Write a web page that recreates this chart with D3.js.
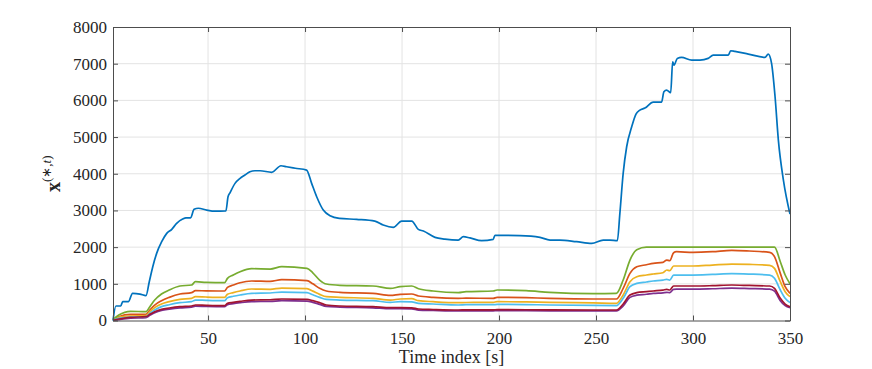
<!DOCTYPE html>
<meta charset="utf-8">
<html>
<head>
  <script src="https://d3js.org/d3.v7.min.js"></script>
  <style>
    body { margin: 0; background: #fff; }
    svg { font-family: "Liberation Serif", "Times New Roman", serif; }
    .grid line { stroke: #e3e3e3; stroke-width: 1; }
    .axis path, .axis line { stroke: #4d4d4d; }
  </style>
</head>
<body>
<script>
// main (large) series, its own time breakpoints
var blueT = [1, 2.5, 5, 6, 8.9, 11.1, 14.9, 18, 19.7, 21.5, 23.5, 26.1, 28.7, 31.3, 33.8, 36.9, 38.6, 41, 42.8, 45, 49.3, 53.6, 59.2,
  60.3, 61.3, 63.9, 66.5, 69, 71.6, 74.2, 76.8, 82.8, 87.6, 90.5, 95, 100.8, 103.4, 106, 109.4, 112.9, 117.7, 126.6, 136, 140.3,
  145.5, 149.8, 155, 158.4, 161, 167, 172.1, 179, 181.6, 185, 191, 197, 197.9, 210.8, 221.1, 226.3, 231.4, 240, 247.8, 253.7,
  257.2, 261, 262.3, 264, 265.8, 268.4, 270.6, 272.6, 275.2, 279.5, 283.8, 285, 286.4, 288.5, 289.5, 290.2, 291.9, 294.1,
  299.3, 303.6, 307.8, 310.4, 318.2, 319.4, 321.6, 328.5, 337.1, 338.8, 340.5, 342.3, 344, 346.6, 350];
var blueV = [0, 395, 395, 512, 512, 740, 720, 677, 1058, 1467, 1830, 2148, 2375, 2485, 2648, 2766, 2800, 2800, 3030, 3060, 3010, 2980, 2985,
  3374, 3480, 3738, 3875, 3964, 4055, 4082, 4082, 4040, 4218, 4190, 4150, 4100, 3738, 3374, 3011, 2856, 2784, 2757, 2711, 2602,
  2539, 2711, 2711, 2485, 2439, 2267, 2220, 2193, 2284, 2250, 2175, 2212, 2321, 2312, 2267, 2193, 2193, 2148, 2103, 2193,
  2193, 2175, 2921, 4011, 4736, 5281, 5627, 5736, 5790, 5954, 5954, 6235, 6281, 6208, 7052, 6962, 7144, 7171,
  7098, 7098, 7144, 7234, 7234, 7352, 7334, 7262, 7171, 7262, 7008, 6098, 4918, 3828, 2900];

// six smaller series share one set of time breakpoints
var tSmall = [1, 4, 10, 18, 20, 22.5, 26, 30, 35.5, 41.5, 43.5, 49, 58.5, 60, 63, 66.5, 72.5, 82, 88, 101, 104, 107.5, 111, 118, 135,
  144, 149, 155, 158.5, 166, 179, 183, 197, 199, 214, 226, 248.5, 260.5, 264, 267.5, 271, 276, 279.5, 284.5, 286.5, 288, 290,
  291.5, 300, 310, 320, 329, 339.5, 342, 345, 347.5, 350];
var orangeV = [20, 104, 168, 168, 286, 422, 540, 631, 722, 758, 813, 808, 804, 903, 967, 1030, 1076, 1067, 1112, 1085, 1000, 876, 804, 767, 740,
  686, 713, 722, 667, 631, 604, 610, 604, 631, 622, 604, 586, 586, 876, 1285, 1466, 1520, 1557, 1584, 1648, 1630, 1848,
  1875, 1857, 1875, 1912, 1894, 1857, 1739, 1285, 921, 740];
var yellowV = [15, 86, 120, 132, 240, 350, 449, 515, 576, 604, 649, 640, 631, 713, 760, 804, 858, 849, 885, 867, 800, 713, 649, 631, 604,
  558, 586, 595, 540, 513, 485, 490, 495, 513, 505, 495, 480, 467, 695, 1058, 1194, 1240, 1267, 1303, 1376, 1358, 1485,
  1485, 1485, 1512, 1539, 1530, 1503, 1421, 1058, 786, 649];
var purpleV = [0, 25, 65, 80, 140, 210, 275, 310, 345, 365, 390, 382, 375, 430, 460, 485, 515, 520, 540, 530, 495, 440, 385, 365, 345,
  320, 320, 315, 285, 275, 262, 265, 265, 270, 268, 265, 260, 260, 395, 631, 690, 715, 740, 755, 767, 758, 850,
  855, 855, 865, 880, 870, 855, 800, 540, 404, 350];
var greenV = [30, 150, 250, 240, 377, 558, 722, 831, 940, 967, 1058, 1040, 1030, 1149, 1240, 1330, 1412, 1403, 1466, 1421, 1300, 1103, 994, 958, 940,
  876, 921, 940, 867, 804, 758, 785, 804, 831, 813, 767, 731, 740, 1103, 1648, 1930, 2000, 2000, 2000, 2000, 2000, 2000,
  2000, 2000, 2000, 2000, 2000, 2000, 2000, 1603, 1240, 1000];
var cyanV = [10, 59, 90, 104, 195, 286, 377, 430, 485, 513, 558, 549, 540, 622, 660, 695, 740, 750, 776, 758, 700, 631, 576, 558, 540,
  495, 513, 510, 467, 450, 422, 430, 430, 440, 435, 422, 410, 404, 604, 921, 1012, 1050, 1076, 1100, 1121, 1103, 1239,
  1239, 1239, 1255, 1276, 1265, 1239, 1149, 831, 604, 486];
var darkredV = [5, 41, 86, 104, 168, 240, 304, 340, 377, 395, 422, 413, 404, 467, 495, 522, 558, 565, 586, 576, 540, 486, 422, 395, 377,
  350, 350, 345, 313, 300, 286, 290, 290, 295, 293, 290, 286, 286, 449, 695, 758, 785, 804, 830, 849, 831, 940,
  940, 940, 950, 967, 955, 940, 876, 604, 449, 377];

var xTicks = [50, 100, 150, 200, 250, 300, 350];
var yTicks = [0, 1000, 2000, 3000, 4000, 5000, 6000, 7000, 8000];

var margin = { top: 27, right: 82, bottom: 48.5, left: 113 },
  width = 872 - margin.left - margin.right,
  height = 369 - margin.top - margin.bottom;

var svg = d3.select("body").append("svg")
  .attr("width", 872).attr("height", 369)
  .append("g")
  .attr("transform", "translate(" + margin.left + "," + margin.top + ")");

var x = d3.scaleLinear().domain([1, 350]).range([0, width]);
var y = d3.scaleLinear().domain([0, 8000]).range([height, 0]);

// grid
svg.append("g").attr("class", "grid")
  .selectAll("line.v").data(xTicks.slice(0, -1)).enter().append("line")
  .attr("x1", function (d) { return x(d); }).attr("x2", function (d) { return x(d); })
  .attr("y1", 0).attr("y2", height);
svg.append("g").attr("class", "grid")
  .selectAll("line.h").data(yTicks.slice(1, -1)).enter().append("line")
  .attr("y1", function (d) { return y(d); }).attr("y2", function (d) { return y(d); })
  .attr("x1", 0).attr("x2", width);

// series, in plotting order
var series = [
  { v: blueV, t: blueT, color: "#0072BD" },
  { v: orangeV, t: tSmall, color: "#D95319" },
  { v: yellowV, t: tSmall, color: "#EDB120" },
  { v: purpleV, t: tSmall, color: "#7E2F8E" },
  { v: greenV, t: tSmall, color: "#77AC30" },
  { v: cyanV, t: tSmall, color: "#4DBEEE" },
  { v: darkredV, t: tSmall, color: "#A2142F" }
];

var line = d3.line()
  .x(function (d) { return x(d[0]); })
  .y(function (d) { return y(d[1]); })
  .curve(d3.curveMonotoneX);

series.forEach(function (s) {
  var pts = s.t.map(function (t, i) { return [t, s.v[i]]; });
  svg.append("path")
    .datum(pts)
    .attr("d", line)
    .attr("fill", "none")
    .attr("stroke", s.color)
    .attr("stroke-width", 1.7)
    .attr("stroke-linejoin", "round");
});

// axes (ticks inward, box on)
svg.append("g").attr("class", "axis")
  .attr("transform", "translate(0," + height + ")")
  .call(d3.axisBottom(x).tickValues(xTicks).tickSizeInner(-5).tickSizeOuter(0).tickPadding(11));
svg.append("g").attr("class", "axis")
  .call(d3.axisLeft(y).tickValues(yTicks).tickSizeInner(-5).tickSizeOuter(0).tickPadding(6).tickFormat(d3.format("d")));
svg.append("g").attr("class", "axis")
  .call(d3.axisTop(x).tickValues(xTicks).tickSizeInner(-5).tickSizeOuter(0).tickFormat(""));
svg.append("g").attr("class", "axis")
  .attr("transform", "translate(" + width + ",0)")
  .call(d3.axisRight(y).tickValues(yTicks).tickSizeInner(-5).tickSizeOuter(0).tickFormat(""));

svg.selectAll(".axis text")
  .style("font-family", "'Liberation Serif', serif")
  .style("font-size", "17px")
  .style("fill", "#262626");

// labels
svg.append("text")
  .attr("x", width / 2).attr("y", height + 42)
  .attr("text-anchor", "middle")
  .style("font-family", "'Liberation Serif', serif")
  .style("font-size", "18px").attr("fill", "#262626")
  .text("Time index [s]");

var yl = svg.append("text")
  .attr("transform", "translate(-53," + (height / 2) + ") rotate(-90)")
  .attr("text-anchor", "middle")
  .attr("fill", "#262626")
  .style("font-family", "'Liberation Serif', serif")
  .style("font-size", "20px");
yl.append("tspan").attr("font-weight", "bold").text("x");
yl.append("tspan").style("font-size", "13px").attr("dy", "-9").text("(\u2217,");
yl.append("tspan").style("font-size", "13px").attr("font-style", "italic").text("t");
yl.append("tspan").style("font-size", "13px").text(")");
</script>
</body>
</html>
